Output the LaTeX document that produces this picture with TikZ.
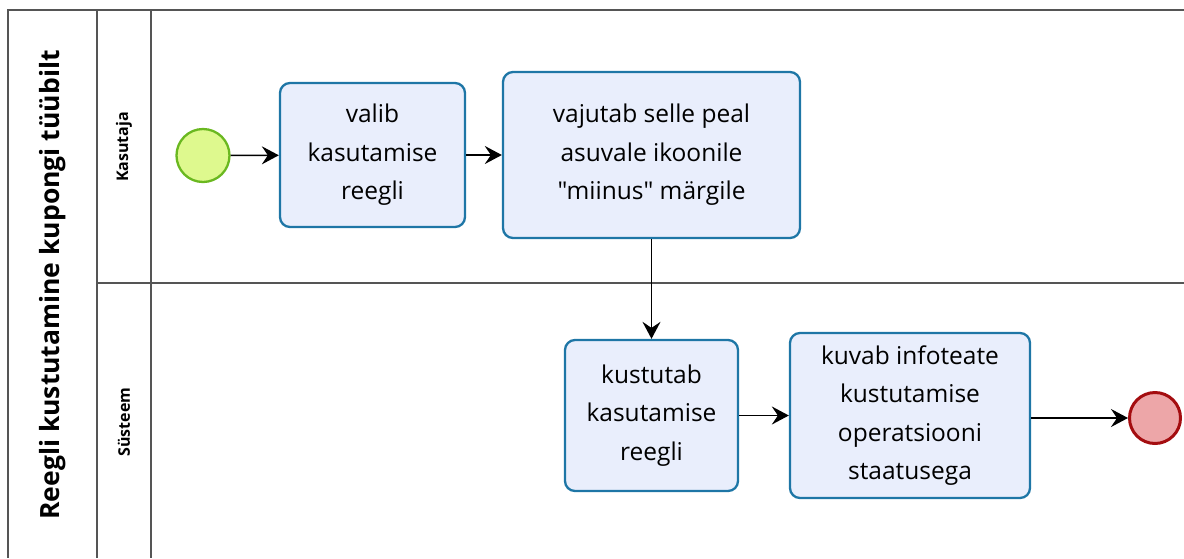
\documentclass[tikz,border=0pt]{standalone}
\usepackage{fontspec}
\setmainfont{Open Sans}[Ligatures=TeXOff]
\usetikzlibrary{arrows.meta}
\definecolor{taskfill}{HTML}{E9EEFC}
\definecolor{taskline}{HTML}{1E76A6}
\definecolor{startfill}{HTML}{DEF98E}
\definecolor{startline}{HTML}{6AB820}
\definecolor{endfill}{HTML}{EDA6A8}
\definecolor{endline}{HTML}{A40D10}
\definecolor{poolline}{HTML}{555555}
\tikzset{
  x=1pt, y=-1pt,
  task/.style={draw=taskline, line width=2.3pt, fill=taskfill, rounded corners=10pt,
    align=center, font=\fontsize{24.5}{38.5}\selectfont, inner sep=0pt},
  startev/.style={circle, draw=startline, fill=startfill, line width=2.3pt,
    minimum size=53pt, inner sep=0pt},
  endev/.style={circle, draw=endline, fill=endfill, line width=3pt,
    minimum size=51pt, inner sep=0pt},
  flow/.style={-{Stealth[length=17pt,width=18pt,inset=6pt]}, line width=1.5pt, black},
  pool/.style={draw=poolline, line width=1.4pt},
  lanelabel/.style={rotate=90, font=\fontsize{16}{18}\selectfont\bfseries},
}
\begin{document}
\begin{tikzpicture}
\useasboundingbox (0,0) rectangle (1184,558);
% pool and lane frame
\draw[pool] (1184,10) -- (8,10) -- (8,558);
\draw[pool] (97,10) -- (97,558);
\draw[pool] (151,10) -- (151,558);
\draw[pool] (97,283) -- (1184,283);
% labels
\node[rotate=90, font=\fontsize{26.5}{30}\selectfont\bfseries] (pooltitle) at (53,285) {Reegli kustutamine kupongi tüübilt};
\node[lanelabel] (lane1) at (124,147) {Kasutaja};
\node[lanelabel] (lane2) at (124,422) {Süsteem};
% events and tasks
\node[startev] (start) at (203,155.5) {};
\node[task, minimum width=185pt, minimum height=144pt] (t1) at (372.5,155) {valib\\kasutamise\\reegli};
\node[task, minimum width=297pt, minimum height=166pt] (t2) at (651.5,155) {vajutab selle peal\\asuvale ikoonile\\"miinus" märgile};
\node[task, minimum width=173pt, minimum height=151pt] (t3) at (651.5,415.5) {kustutab\\kasutamise\\reegli};
\node[task, minimum width=240pt, minimum height=165pt] (t4) at (910,415.5) {kuvab infoteate\\kustutamise\\operatsiooni\\staatusega};
\node[endev] (end) at (1155,418) {};
% sequence flows
\draw[flow] (start) -- (t1);
\draw[flow] (t1) -- (t2);
\draw[flow] (t2) -- (t3);
\draw[flow] (t3) -- (t4);
\draw[flow] (t4.east |- end) -- (end);
\end{tikzpicture}
\end{document}
